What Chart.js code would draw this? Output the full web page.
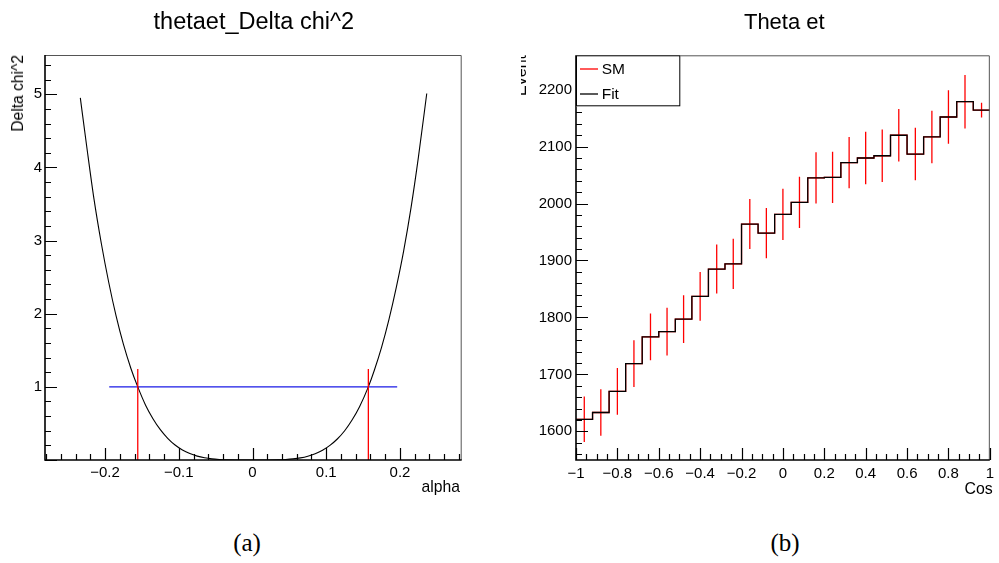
<!DOCTYPE html>
<html><head><meta charset="utf-8">
<script src="https://cdn.jsdelivr.net/npm/chart.js@4.4.1/dist/chart.umd.min.js"></script>
<style>
html,body{margin:0;padding:0;background:#fff;}
body{width:999px;height:563px;overflow:hidden;position:relative;font-family:"Liberation Sans",Arial,Helvetica,sans-serif;color:#000;}
.t{position:absolute;white-space:nowrap;line-height:1;}
canvas{position:absolute;top:0;}
#c1{left:0;}
#c2{left:500px;}
.rot{transform-origin:0 0;transform:rotate(-90deg) translateX(-100%);}
.cap{font-family:"Liberation Serif","DejaVu Serif",serif;font-size:25px;}
</style></head><body>
<canvas id="c1" width="500" height="500" style="width:500px;height:500px"></canvas>
<canvas id="c2" width="499" height="500" style="width:499px;height:500px"></canvas>

<div class="t" style="left:253.8px;top:10.1px;font-size:23.5px;transform:translateX(-50%)">thetaet_Delta chi^2</div>
<div class="t" style="left:784.3px;top:11.4px;font-size:22px;transform:translateX(-50%)">Theta et</div>
<div class="t" style="right:539px;top:479.4px;font-size:15.7px">alpha</div>
<div class="t" style="right:6.3px;top:480.8px;font-size:15.9px">Cos</div>
<div class="t rot" style="left:10.1px;top:55px;font-size:15.6px">Delta chi^2</div>
<div style="position:absolute;left:520.5px;top:0;width:30px;height:200px;overflow:hidden">
  <div class="t rot" style="left:-7.9px;top:55px;font-size:16px">Event</div>
</div>
<div class="t cap" style="left:247px;top:529.8px;transform:translateX(-50%)">(a)</div>
<div class="t cap" style="left:785px;top:529.8px;transform:translateX(-50%)">(b)</div>

<script>
// ---------- Left panel data: Delta chi^2 vs alpha ----------
const alphaPoints = [-0.2335,-0.225,-0.215,-0.205,-0.195,-0.185,-0.175,-0.165,-0.1556,-0.145,-0.135,-0.125,-0.115,-0.105,-0.095,-0.085,-0.075,-0.065,-0.055,-0.045,-0.035,-0.02,0,0.02,0.035,0.045,0.055,0.065,0.075,0.085,0.095,0.105,0.115,0.125,0.135,0.145,0.1571,0.165,0.175,0.185,0.195,0.205,0.215,0.225,0.2363];
const deltaChi2 = [4.95,4.30,3.57,2.96,2.43,1.97,1.58,1.255,1.0,0.75,0.565,0.415,0.297,0.205,0.137,0.088,0.053,0.030,0.015,0.007,0.0025,0.0003,0.0,0.0003,0.0025,0.0067,0.015,0.029,0.052,0.086,0.134,0.20,0.287,0.40,0.546,0.725,1.0,1.22,1.54,1.92,2.36,2.86,3.45,4.14,5.01];
const limitAlpha = [-0.1556, 0.1571];
const limitTop = 1.245;
const oneSigmaAlpha = [-0.1943, 0.1962];
const oneSigmaLevel = 1;
const leftXTicks = [-0.2,-0.1,0,0.1,0.2];
const leftYTicks = [1,2,3,4,5];

// ---------- Right panel data: Theta et histogram ----------
const binLowEdges = [-1,-0.92,-0.84,-0.76,-0.68,-0.6,-0.52,-0.44,-0.36,-0.28,-0.2,-0.12,-0.04,0.04,0.12,0.2,0.28,0.36,0.44,0.52,0.6,0.68,0.76,0.84,0.92];
const binUpperEdge = 1;
const fitValues = [1621,1633,1670,1719,1766,1775,1797,1837,1885,1894,1964,1948,1981,2002,2045,2046,2072,2080,2084,2120,2087,2117,2152,2179,2164];
const smValues  = [1621,1633,1670,1719,1766,1775,1797,1837,1885,1894,1964,1948,1981,2002,2045,2046,2072,2080,2084,2120,2087,2117,2152,2179,2164];
const smErrors  = [40,41,41,41,41,42,42,43,43,44,44,44,45,45,45,45,45,46,46,46,46,46,47,47,13];
const rightXTicks = [-1,-0.8,-0.6,-0.4,-0.2,0,0.2,0.4,0.6,0.8,1];
const rightYTicks = [1600,1700,1800,1900,2000,2100,2200];
const legendLabels = ['SM','Fit'];

const FONT = '"Liberation Sans", Arial, Helvetica, sans-serif';
const fmt = v => { const r = Math.round(v*100)/100; return r < 0 ? '\u2212' + String(-r) : String(r); };

// ROOT-like frame + inward ticks (+ optional legend box)
const rootAxes = {
  id: 'rootAxes',
  afterDatasetsDraw(chart, args, o) {
    const ctx = chart.ctx, a = chart.chartArea, xs = chart.scales.x, ys = chart.scales.y;
    ctx.save();
    ctx.strokeStyle = '#555'; ctx.lineWidth = 1;
    ctx.beginPath();
    ctx.moveTo(a.left, a.top + 0.5); ctx.lineTo(a.right - 0.5, a.top + 0.5); ctx.lineTo(a.right - 0.5, a.bottom);
    ctx.stroke();
    ctx.strokeStyle = '#000'; ctx.lineWidth = 1.2;
    ctx.beginPath();
    const xmn = xs.min, xmx = xs.max;
    for (let k = Math.ceil(xmn / o.xMinor - 1e-6); k * o.xMinor <= xmx + 1e-9; k++) {
      const v = k * o.xMinor;
      const isMaj = Math.abs(v / o.xMajor - Math.round(v / o.xMajor)) < 1e-6;
      const px = Math.round(xs.getPixelForValue(v)) + 0.5;
      ctx.moveTo(px, a.bottom); ctx.lineTo(px, a.bottom - (isMaj ? o.majLen : o.minLen));
    }
    const ymn = ys.min, ymx = ys.max;
    for (let k = Math.ceil(ymn / o.yMinor - 1e-6); k * o.yMinor <= ymx + 1e-9; k++) {
      const v = k * o.yMinor;
      const isMaj = Math.abs(v / o.yMajor - Math.round(v / o.yMajor)) < 1e-6;
      const py = Math.round(ys.getPixelForValue(v)) + 0.5;
      ctx.moveTo(a.left, py); ctx.lineTo(a.left + (isMaj ? o.majLen : o.minLen), py);
    }
    ctx.stroke();
    ctx.lineWidth = 1.6;
    ctx.beginPath();
    ctx.moveTo(a.left, a.top); ctx.lineTo(a.left, a.bottom); ctx.lineTo(a.right, a.bottom);
    ctx.stroke();
    if (o.legend) {
      const L = o.legend;
      const x0 = a.left, y0 = a.top, x1 = a.left + L.w, y1 = a.top + L.h;
      ctx.fillStyle = '#fff'; ctx.fillRect(x0, y0, x1 - x0, y1 - y0);
      ctx.strokeStyle = '#000'; ctx.lineWidth = 1;
      ctx.strokeRect(x0 + 0.5, y0 + 0.5, x1 - x0 - 1, y1 - y0 - 1);
      L.items.forEach((it, i) => {
        const ly = y0 + L.rowY[i];
        ctx.strokeStyle = it.color; ctx.lineWidth = 1.3;
        ctx.beginPath(); ctx.moveTo(x0 + 4, ly); ctx.lineTo(x0 + 22, ly); ctx.stroke();
        ctx.fillStyle = '#000'; ctx.font = '15.5px ' + FONT; ctx.textBaseline = 'alphabetic'; ctx.textAlign = 'left';
        ctx.fillText(it.text, x0 + 25.7, ly + 5.3);
      });
    }
    ctx.restore();
  }
};

function scaleCfg(min, max, ticksArr, isY, widthOrHeight, pad) {
  return {
    type: 'linear', min, max,
    grid: { display: false, drawTicks: false },
    border: { display: false },
    afterBuildTicks: s => { s.ticks = ticksArr.map(v => ({ value: v })); },
    afterFit: s => { if (isY) s.width = widthOrHeight; else s.height = widthOrHeight; },
    ticks: { color: '#000', padding: pad, font: { family: FONT, size: 15 }, maxRotation: 0, autoSkip: false,
      callback: v => fmt(v) }
  };
}

// ---- Left chart ----
const curve = alphaPoints.map((x, i) => ({ x, y: deltaChi2[i] }));
const redLines = [];
limitAlpha.forEach(x => { redLines.push({ x, y: 0 }, { x, y: limitTop }, { x, y: null }); });
const blueLine = oneSigmaAlpha.map(x => ({ x, y: oneSigmaLevel }));

new Chart(document.getElementById('c1'), {
  type: 'line',
  data: { datasets: [
    { data: redLines, borderColor: '#ff0000', borderWidth: 1.3, pointRadius: 0, spanGaps: false, fill: false },
    { data: curve, borderColor: '#000', borderWidth: 1.1, pointRadius: 0, cubicInterpolationMode: 'monotone', fill: false },
    { data: blueLine, borderColor: '#1a1ae6', borderWidth: 1.3, pointRadius: 0, fill: false }
  ]},
  options: {
    responsive: false, animation: false, events: [],
    layout: { padding: { left: 0, top: 55, right: 38.3, bottom: 0 } },
    scales: {
      x: scaleCfg(-0.2814, 0.2837, leftXTicks, false, 40, 4),
      y: scaleCfg(0, 5.537, leftYTicks, true, 45, 3)
    },
    plugins: { legend: { display: false }, tooltip: { enabled: false },
      rootAxes: { xMajor: 0.1, xMinor: 0.02, yMajor: 1, yMinor: 0.2, majLen: 12, minLen: 6 } }
  },
  plugins: [rootAxes]
});

// ---- Right chart ----
const stepFit = binLowEdges.map((x, i) => ({ x, y: fitValues[i] }));
stepFit.push({ x: binUpperEdge, y: fitValues[fitValues.length - 1] });
const stepSM = binLowEdges.map((x, i) => ({ x, y: smValues[i] }));
stepSM.push({ x: binUpperEdge, y: smValues[smValues.length - 1] });
const errBars = [];
binLowEdges.forEach((lo, i) => {
  const hi = i + 1 < binLowEdges.length ? binLowEdges[i + 1] : binUpperEdge;
  const c = (lo + hi) / 2;
  errBars.push({ x: c, y: smValues[i] - smErrors[i] }, { x: c, y: smValues[i] + smErrors[i] }, { x: c, y: null });
});

new Chart(document.getElementById('c2'), {
  type: 'line',
  data: { datasets: [
    { data: stepFit, borderColor: '#000', borderWidth: 1.3, pointRadius: 0, stepped: true, fill: false },
    { data: errBars, borderColor: '#ff0000', borderWidth: 1.3, pointRadius: 0, spanGaps: false, fill: false },
    { data: stepSM, borderColor: '#ff0000', borderWidth: 1.3, pointRadius: 0, stepped: true, fill: false }
  ]},
  options: {
    responsive: false, animation: false, events: [],
    layout: { padding: { left: 0, top: 55.3, right: 6.3, bottom: 0 } },
    scales: {
      x: scaleCfg(-1, 1, rightXTicks, false, 40, 5),
      y: scaleCfg(1549.6, 2260.4, rightYTicks, true, 76, 4)
    },
    plugins: { legend: { display: false }, tooltip: { enabled: false },
      rootAxes: { xMajor: 0.2, xMinor: 0.05, yMajor: 100, yMinor: 20, majLen: 12, minLen: 6,
        legend: { w: 104.3, h: 51, rowY: [13.7, 38.7],
          items: [{ text: legendLabels[0], color: '#ff0000' }, { text: legendLabels[1], color: '#000' }] } } }
  },
  plugins: [rootAxes]
});
</script>
</body></html>
